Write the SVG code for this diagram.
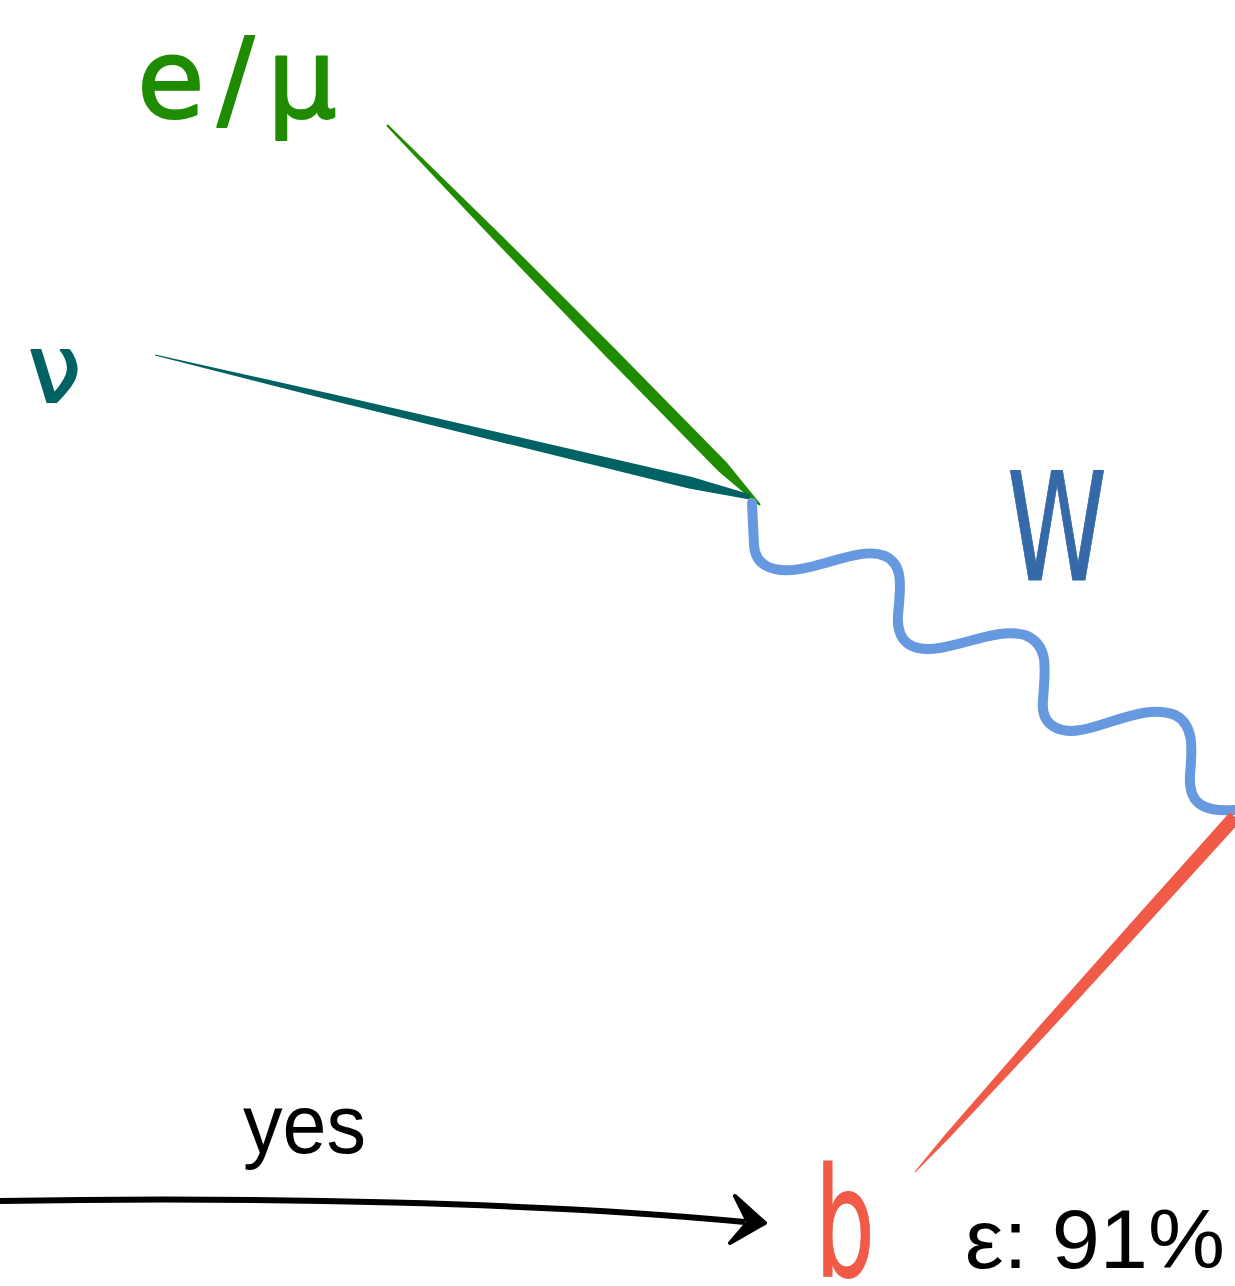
<svg xmlns="http://www.w3.org/2000/svg" width="1235" height="1286" viewBox="0 0 1235 1286">
<style>
.hand{font-family:"DejaVu Sans","Liberation Sans",sans-serif;stroke-linejoin:round;stroke-linecap:round}
.plain{font-family:"Liberation Sans","Noto Sans",sans-serif;fill:#000}
</style>
<rect width="1235" height="1286" fill="#fff"/>
<g id="connectors">
  <path id="lepton-line" d="M 387.8 124.2 L 502 235.9 L 615 348.8 L 727 462.8 L 760.7 504.3 L 759.3 505.7 L 718.4 471.2 L 606.6 357.2 L 495.8 242.1 L 386.2 125.8 Z" fill="#1f8c00"/>
  <path id="neutrino-line" d="M 155.1 354.5 L 334.3 394.5 L 513.1 435.8 L 692 477 L 750.5 494.5 L 749.5 499.5 L 689 488.6 L 510.9 444.6 L 332.7 400.7 L 154.9 355.5 Z" fill="#006262"/>
  <path id="w-line" d="M 752 503 L 754 545 C 756 575, 790 572, 810 567 C 840 560, 865 548, 885 556 C 905 565, 900 590, 898 615 C 896 645, 915 652, 940 648 C 970 643, 1000 628, 1025 635 C 1050 645, 1045 670, 1043 700 C 1040 730, 1065 735, 1090 728 C 1120 720, 1150 705, 1175 715 C 1195 725, 1192 750, 1190 775 C 1188 805, 1205 812, 1235 810" fill="none" stroke="#6699e0" stroke-width="10" stroke-linecap="round"/>
  <path id="b-line" d="M 1229.8 812.3 L 1134.2 919.2 L 1039 1026.5 L 945 1134.8 L 914.6 1171.7 L 915.4 1172.3 L 949 1138.2 L 1047 1033.5 L 1143.8 927.8 L 1240.2 821.7 Z" fill="#f05a46"/>
  <path id="yes-arrow" d="M 0 1201 C 250 1196, 550 1203, 745 1222" fill="none" stroke="#000" stroke-width="6"/>
  <path id="yes-arrowhead" d="M 735 1196 L 765 1223 L 730 1243 L 748 1222 Z" fill="#000" stroke="#000" stroke-width="4" stroke-linejoin="round"/>
  <text class="plain" x="243" y="1153" font-size="84" textLength="123" lengthAdjust="spacingAndGlyphs">yes</text>
</g>
<g id="node-lepton">
  <text class="hand" x="137" y="117" font-size="110" fill="#1f8c00" stroke="#1f8c00" stroke-width="2" textLength="200" lengthAdjust="spacing">e/μ</text>
</g>
<g id="node-neutrino">
  <text class="hand" x="28" y="402" font-size="95" fill="#006262" stroke="#006262" stroke-width="2">ν</text>
</g>
<g id="node-w">
  <text class="hand" x="1007" y="580" font-size="150" fill="#3569a8" stroke="#3569a8" stroke-width="1" textLength="100" lengthAdjust="spacingAndGlyphs">W</text>
</g>
<g id="node-b">
  <text class="hand" x="815" y="1276" font-size="152" fill="#f05a46" stroke="#f05a46" stroke-width="1" textLength="60" lengthAdjust="spacingAndGlyphs">b</text>
  <text class="plain" x="965" y="1268" font-size="84" textLength="260" lengthAdjust="spacingAndGlyphs">ε: 91%</text>
</g>
</svg>
